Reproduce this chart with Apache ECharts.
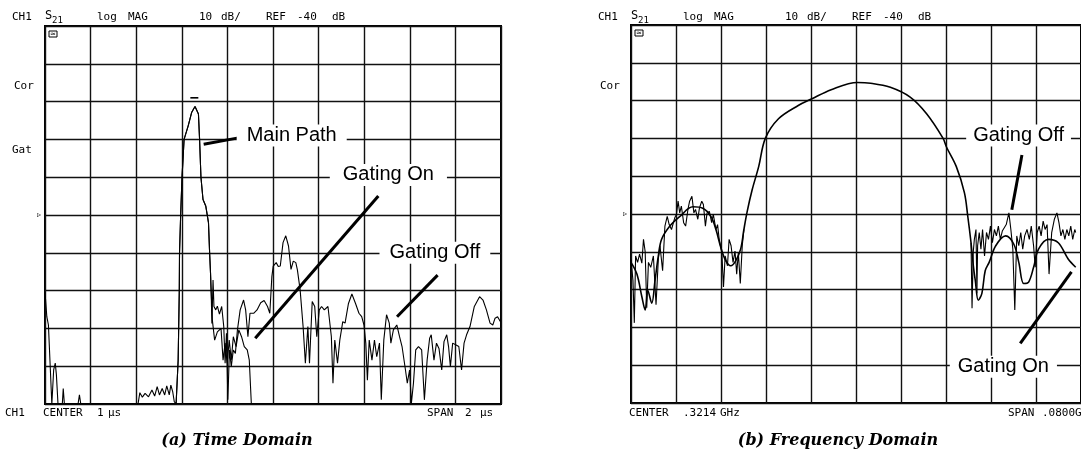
<!DOCTYPE html>
<html><head><meta charset="utf-8">
<script src="https://cdn.jsdelivr.net/npm/echarts@6/dist/echarts.min.js"></script>
<style>html,body{margin:0;padding:0;background:#fff}#c{width:1081px;height:464px}</style>
</head><body><div id="c"></div>
<script>
// ---------- DATA ----------
// (a) Time domain, x = time in µs (center 1 µs, span 2 µs), y = dB (10 dB/div, ref -40 dB)
const timeGatingOff = [
[0.000,-60.3],[0.008,-66.9],[0.015,-69.1],[0.023,-69.5],[0.030,-90],[0.038,-81.0],[0.045,-79.2],[0.050,-82.3],[0.057,-90],[0.076,-90],[0.080,-85.9],[0.085,-90],[0.145,-90],[0.151,-87.6],[0.157,-90],[0.408,-90],[0.416,-87.0],[0.427,-88.2],[0.439,-87.2],[0.454,-88.1],[0.469,-86.3],[0.481,-87.9],[0.492,-85.4],[0.502,-87.6],[0.514,-85.9],[0.525,-87.6],[0.534,-85.2],[0.545,-87.6],[0.552,-85.0],[0.560,-86.7],[0.567,-89.4],[0.575,-90],[0.584,-78.4],[0.589,-60],[0.590,-50],[0.595,-40],[0.601,-30],[0.610,-20],[0.628,-16.4],[0.643,-12.9],[0.658,-11.3],[0.673,-13.3],[0.678,-20],[0.684,-30],[0.693,-35.9],[0.699,-35.4],[0.705,-37.6],[0.711,-38],[0.717,-42],[0.722,-50],[0.726,-55.4],[0.729,-60.7],[0.732,-68.7],[0.737,-57.2],[0.741,-64.2],[0.749,-65.1],[0.756,-64.1],[0.765,-66.2],[0.775,-64.2],[0.784,-69.5],[0.790,-79.2],[0.796,-71.3],[0.802,-88.9],[0.809,-75.7],[0.817,-80.1],[0.826,-75.7],[0.835,-76.6],[0.844,-70.4],[0.856,-65.1],[0.871,-62.5],[0.880,-65.1],[0.890,-72.2],[0.899,-66.0],[0.915,-66.0],[0.930,-65.1],[0.946,-63.2],[0.961,-62.6],[0.976,-64.2],[0.986,-66.0],[0.995,-56.3],[1.001,-53.5],[1.014,-52.6],[1.023,-53.6],[1.032,-53.5],[1.044,-47.3],[1.056,-45.5],[1.068,-48.2],[1.079,-54.4],[1.089,-52.2],[1.100,-52.6],[1.107,-54.5],[1.119,-59.8],[1.132,-69.5],[1.142,-79.2],[1.153,-69.5],[1.160,-79.2],[1.172,-62.9],[1.183,-64.2],[1.192,-72.2],[1.203,-65.1],[1.213,-64.2],[1.225,-65.1],[1.241,-64.2],[1.256,-72.2],[1.263,-84.5],[1.271,-73.1],[1.283,-79.2],[1.293,-73.1],[1.306,-68.2],[1.316,-68.6],[1.331,-63.4],[1.346,-60.9],[1.362,-63.4],[1.377,-66.0],[1.389,-66.9],[1.399,-69.1],[1.407,-73.9],[1.414,-83.7],[1.422,-73.1],[1.434,-78.4],[1.445,-73.1],[1.455,-77.5],[1.467,-73.9],[1.475,-88.9],[1.486,-73.1],[1.498,-66.4],[1.510,-68.6],[1.517,-73.9],[1.528,-70.4],[1.543,-69.1],[1.555,-72.2],[1.566,-74.8],[1.581,-81.0],[1.589,-84.5],[1.599,-81.0],[1.607,-89.8],[1.616,-84.5],[1.626,-75.7],[1.638,-74.8],[1.652,-75.7],[1.664,-88.9],[1.676,-78.4],[1.687,-72.6],[1.694,-71.7],[1.706,-78.4],[1.717,-73.9],[1.728,-75.3],[1.740,-81.0],[1.750,-73.5],[1.762,-71.7],[1.770,-74.8],[1.778,-80.1],[1.788,-73.9],[1.803,-74.4],[1.815,-74.8],[1.827,-81.0],[1.838,-73.9],[1.849,-71.7],[1.864,-69.5],[1.883,-64.2],[1.906,-61.6],[1.921,-62.5],[1.936,-65.1],[1.952,-68.6],[1.964,-69.1],[1.974,-67.3],[1.985,-66.9],[1.997,-68.2]
];
const timeGatingOn = [
[0.000,-90],[0.575,-90],[0.584,-78.4],[0.589,-60],[0.590,-50],[0.595,-40],[0.601,-30],[0.610,-20],[0.628,-16.4],[0.643,-12.9],[0.658,-11.3],[0.673,-13.3],[0.678,-20],[0.684,-30],[0.693,-35.9],[0.699,-35.4],[0.705,-37.6],[0.711,-38],[0.717,-42],[0.722,-50],[0.726,-55.4],[0.729,-60.7],[0.734,-67.8],[0.744,-73.1],[0.756,-70.9],[0.772,-70.0],[0.781,-78.4],[0.790,-73.9],[0.799,-79.2],[0.808,-73.1],[0.817,-78.4],[0.826,-72.2],[0.838,-74.8],[0.850,-70.4],[0.862,-72.2],[0.874,-74.8],[0.887,-75.7],[0.896,-78.4],[0.905,-90],[2.000,-90]
];
// (b) Frequency domain, x = frequency in GHz (center .3214 GHz, span .0800 GHz)
const CENTER_GHZ = 0.3214;
const freqGatingOn = [
[0.28140,-52.8],[0.28245,-55.9],[0.28333,-61.9],[0.28392,-65.4],[0.28438,-60.2],[0.28509,-63.6],[0.28567,-57.6],[0.28626,-51.1],[0.28684,-46.7],[0.28831,-43.2],[0.29006,-40.7],[0.29241,-38.1],[0.29416,-38.5],[0.29562,-40.7],[0.29650,-44.1],[0.29738,-48.9],[0.29826,-52.4],[0.29913,-53.7],[0.30001,-52.4],[0.30089,-49.3],[0.30147,-44.1],[0.30206,-39.3],[0.30294,-33.6],[0.30411,-27.4],[0.30528,-20],[0.30762,-14.8],[0.31113,-11.3],[0.31347,-9.6],[0.31698,-7.1],[0.32166,-5.2],[0.32400,-5.4],[0.32751,-6.5],[0.33103,-9.1],[0.33395,-13.5],[0.33688,-20],[0.33746,-22.2],[0.33922,-27.4],[0.34068,-34.4],[0.34127,-40.6],[0.34185,-47.6],[0.34226,-53.7],[0.34261,-57.6],[0.34314,-62.8],[0.34378,-61.0],[0.34437,-55.0],[0.34507,-52.8],[0.34624,-48.4],[0.34800,-45.8],[0.34946,-48.0],[0.35034,-52.8],[0.35122,-58.4],[0.35209,-58.0],[0.35297,-54.1],[0.35385,-49.3],[0.35561,-46.7],[0.35736,-47.6],[0.35912,-51.9],[0.36046,-54.1]
];
const freqGatingOffLower = [
[0.28140,-52.0],[0.28175,-57.6],[0.28199,-68.8],[0.28222,-51.1],[0.28257,-52.8],[0.28292,-50.6],[0.28333,-53.0],[0.28362,-46.7],[0.28392,-50.0],[0.28420,-64.8],[0.28450,-52.8],[0.28491,-54.1],[0.28538,-51.1],[0.28585,-64.0],[0.28626,-51.9],[0.28655,-48.4],[0.28702,-55.0],[0.28743,-43.2],[0.28784,-40.6],[0.28819,-42.8],[0.28860,-44.1],[0.28918,-41.0],[0.28948,-40.1],[0.28977,-36.6],[0.29006,-39.7],[0.29035,-37.9],[0.29076,-42.3],[0.29111,-43.2],[0.29152,-38.8],[0.29182,-36.6],[0.29223,-35.3],[0.29258,-39.7],[0.29287,-38.8],[0.29328,-41.4],[0.29357,-38.4],[0.29398,-36.6],[0.29427,-37.5],[0.29463,-43.2],[0.29492,-39.7],[0.29533,-39.3],[0.29574,-42.3],[0.29603,-40.1],[0.29650,-44.1],[0.29679,-42.8],[0.29708,-46.7],[0.29755,-50.2],[0.29784,-59.3],[0.29814,-51.1],[0.29855,-53.7],[0.29884,-46.7],[0.29919,-48.4],[0.29954,-52.8],[0.29989,-49.8],[0.30019,-55.9],[0.30048,-50.2],[0.30083,-58.4],[0.30118,-48.4],[0.30147,-44.1]
];
const freqGatingOffUpper = [
[0.34185,-47.6],[0.34203,-64.9],[0.34225,-50.0],[0.34244,-46.7],[0.34273,-44.1],[0.34290,-61.0],[0.34302,-48.4],[0.34331,-44.9],[0.34361,-49.3],[0.34390,-44.1],[0.34425,-51.1],[0.34460,-44.9],[0.34495,-46.7],[0.34530,-43.2],[0.34565,-47.6],[0.34601,-44.1],[0.34636,-45.8],[0.34671,-43.2],[0.34706,-46.7],[0.34741,-44.5],[0.34776,-44.9],[0.34811,-42.8],[0.34858,-39.7],[0.34893,-44.1],[0.34928,-49.3],[0.34963,-65.4],[0.34998,-45.8],[0.35034,-48.4],[0.35069,-44.9],[0.35104,-49.3],[0.35139,-45.8],[0.35180,-44.1],[0.35221,-46.7],[0.35256,-43.2],[0.35297,-48.4],[0.35326,-54.1],[0.35361,-44.9],[0.35396,-43.2],[0.35431,-45.8],[0.35467,-41.9],[0.35502,-44.1],[0.35537,-42.8],[0.35572,-55.9],[0.35619,-44.9],[0.35666,-41.4],[0.35712,-39.7],[0.35748,-42.3],[0.35783,-45.8],[0.35818,-44.1],[0.35853,-46.7],[0.35888,-44.1],[0.35923,-45.8],[0.35958,-43.2],[0.35993,-46.7],[0.36029,-44.1],[0.36046,-44.9]
];
// Annotations: [label, textX, textY, arrowFromX, arrowFromY, arrowToX, arrowToY] in data units
const timeNotes = [
  ['Main Path', 1.082, -19.0, 0.696, -21.3, 0.848, -19.6],
  ['Gating On', 1.506, -29.4, 0.922, -72.6, 1.462, -35.0],
  ['Gating Off', 1.710, -50.0, 1.544, -66.9, 1.722, -55.9]
];
const freqNotes = [ // x in GHz
  ['Gating Off', 0.3503, -19.2, 0.3509, -24.4, 0.3491, -38.9],
  ['Gating On', 0.3476, -80.4, 0.3506, -74.2, 0.3597, -55.3]
];
const peakMarker = [0.655, -9];

// ---------- CHART ----------
const toMHz = f => Math.round((f - CENTER_GHZ) * 1e6) / 1000;
const P = [{left:45, top:26, w:456, h:378}, {left:631, top:25, w:456, h:378}];
const chart = echarts.init(document.getElementById('c'));
const gridLine = {show:true, lineStyle:{color:'#111', width:1.4}};
function xAx(i, min, max, interval){return {type:'value', gridIndex:i, min, max, interval, axisLabel:{show:false}, axisTick:{show:false}, axisLine:{show:false}, splitLine:gridLine};}
function yAx(i){return {type:'value', gridIndex:i, min:-90, max:10, interval:10, axisLabel:{show:false}, axisTick:{show:false}, axisLine:{show:false}, splitLine:gridLine};}
const base = {type:'line', symbol:'none', showSymbol:false, animation:false, silent:true, clip:true, lineStyle:{color:'#000', width:1.1}};
const noteLabel = pad => ({show:true, position:'inside', formatter:p=>p.name, color:'#000', fontSize:20, fontFamily:'"Liberation Sans", Arial, sans-serif', backgroundColor:'#fff', padding:[1,pad], lineHeight:20});
function notes(list, conv, pads){
  return {
    markLine:{silent:true, animation:false, symbol:['none','none'], label:{show:false}, lineStyle:{color:'#000', width:3, type:'solid'},
      data:list.map(n=>[{coord:[conv(n[3]),n[4]]},{coord:[conv(n[5]),n[6]]}])},
    markPoint:{silent:true, animation:false, symbol:'rect', symbolSize:1, itemStyle:{color:'rgba(0,0,0,0)'},
      data:list.map((n,k)=>({name:n[0], coord:[conv(n[1]),n[2]], label:noteLabel(pads[k])}))}
  };
}
const tn = notes(timeNotes, x=>x, [10,13,10]);
tn.markPoint.data.push({name:'', coord:peakMarker, symbol:'rect', symbolSize:[8,1.6], itemStyle:{color:'#000'}, label:{show:false}});
const fn = notes(freqNotes, toMHz, [7,8]);

const txt = [];
const mono = '11px "DejaVu Sans Mono", monospace';
function T(x, y, text, font, align){txt.push({type:'text', x, y, z:50, style:{text, font:font||mono, fill:'#000', align:align||'left', verticalAlign:'middle'}});}
P.forEach((p,k)=>{
  const L = p.left;
  T(L-33, 17, 'CH1'); T(L, 16, 'S', '12px "DejaVu Sans Mono", monospace'); T(L+7, 21, '21', '9px "DejaVu Sans Mono", monospace');
  T(L+52, 17, 'log'); T(L+83, 17, 'MAG'); T(L+154, 17, '10'); T(L+176, 17, 'dB/');
  T(L+221, 17, 'REF'); T(L+252, 17, '-40'); T(L+287, 17, 'dB');
  T(L-31, 86, 'Cor');
  T(L-8, p.top + 5*p.h/10, '▹', '8px "DejaVu Sans", sans-serif');
  txt.push({type:'rect', z:50, shape:{x:L+4, y:p.top+5, width:8, height:6}, style:{fill:'none', stroke:'#000', lineWidth:1}});
  txt.push({type:'text', z:50, x:L+8, y:p.top+8, style:{text:'≈', font:'7px "DejaVu Sans"', fill:'#000', align:'center', verticalAlign:'middle'}});
});
T(12, 150, 'Gat');
T(5, 413, 'CH1'); T(43, 413, 'CENTER'); T(97, 413, '1'); T(108, 413, 'µs');
T(427, 413, 'SPAN'); T(465, 413, '2'); T(480, 413, 'µs');
T(629, 413, 'CENTER'); T(683, 413, '.3214'); T(720, 413, 'GHz');
T(1008, 413, 'SPAN'); T(1042, 413, '.0800'); T(1075, 413, 'GHz');
const cap = 'italic bold 16px "DejaVu Serif", serif';
T(237, 441, '(a) Time Domain', cap, 'center');
T(838, 441, '(b) Frequency Domain', cap, 'center');

chart.setOption({
  animation:false,
  backgroundColor:'#fff',
  grid:P.map(p=>({left:p.left, top:p.top, width:p.w, height:p.h, show:true, borderColor:'#000', borderWidth:2, backgroundColor:'transparent'})),
  xAxis:[xAx(0,0,2,0.2), xAx(1,-40,40,8)],
  yAxis:[yAx(0), yAx(1)],
  series:[
    Object.assign({}, base, {name:'Gating Off', xAxisIndex:0, yAxisIndex:0, data:timeGatingOff}, tn),
    Object.assign({}, base, {name:'Gating On', xAxisIndex:0, yAxisIndex:0, data:timeGatingOn}),
    Object.assign({}, base, {name:'Gating On', xAxisIndex:1, yAxisIndex:1, smooth:0.35, lineStyle:{color:'#000', width:1.6}, data:freqGatingOn.map(d=>[toMHz(d[0]), d[1]])}, fn),
    Object.assign({}, base, {name:'Gating Off', xAxisIndex:1, yAxisIndex:1, data:freqGatingOffLower.map(d=>[toMHz(d[0]), d[1]])}),
    Object.assign({}, base, {name:'Gating Off', xAxisIndex:1, yAxisIndex:1, data:freqGatingOffUpper.map(d=>[toMHz(d[0]), d[1]])})
  ],
  graphic:txt
});
</script></body></html>
